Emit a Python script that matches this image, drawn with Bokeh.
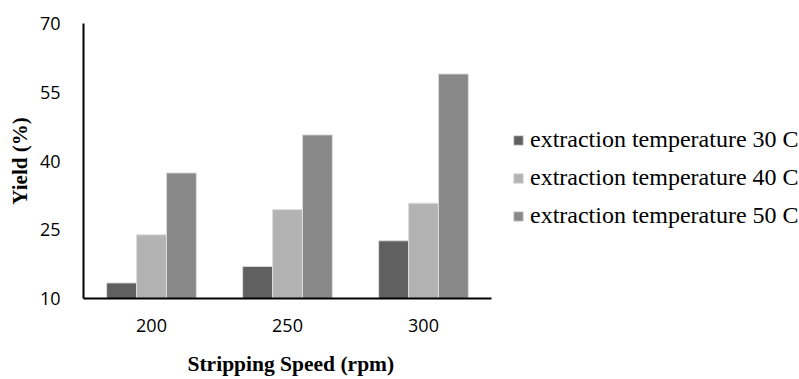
from bokeh.plotting import figure
from bokeh.models import ColumnDataSource, FixedTicker, Legend, LegendItem, Range1d, Title
from bokeh.transform import dodge
from bokeh.embed import file_html
from bokeh.resources import INLINE

speeds = ["200", "250", "300"]
temp_30 = [13.4, 17.0, 22.6]
temp_40 = [23.9, 29.4, 30.8]
temp_50 = [37.4, 45.7, 59.0]
series_labels = ["extraction temperature 30 C", "extraction temperature 40 C", "extraction temperature 50 C"]
colors = ["#606060", "#b3b3b3", "#898989"]
y_ticks = [10, 25, 40, 55, 70]

xpos = [i + 0.5 for i in range(len(speeds))]
source = ColumnDataSource(data=dict(x=xpos, t30=temp_30, t40=temp_40, t50=temp_50))

frame_left = 83
plot_w = 799
cat_px = 408  # width of the category area in pixels
x_end = len(speeds) * (plot_w - frame_left) / cat_px

p = figure(
    x_range=Range1d(0, x_end), y_range=(10, 70),
    width=plot_w, height=379,
    min_border_left=frame_left, min_border_right=0, min_border_top=23, min_border_bottom=81,
    output_backend="svg", toolbar_location=None,
)
p.outline_line_color = None
p.xgrid.grid_line_color = None
p.ygrid.grid_line_color = None

bw = 0.22
renderers = []
for col, off, color in zip(["t30", "t40", "t50"], [-bw, 0.0, bw], colors):
    r = p.vbar(x=dodge("x", off), top=col, bottom=10, width=bw,
               source=source, fill_color=color, line_color="#dedede", line_width=1)
    renderers.append(r)

for ax in (p.xaxis[0], p.yaxis[0]):
    ax.axis_line_color = "black"
    ax.axis_line_width = 2
    ax.major_tick_line_color = None
    ax.minor_tick_line_color = None
    ax.major_label_text_font = "Open Sans"
    ax.major_label_text_font_size = "18px"
    ax.major_label_text_color = "black"
    ax.axis_label_text_font = "Liberation Serif"
    ax.axis_label_text_font_style = "bold"
    ax.axis_label_text_font_size = "21px"
    ax.axis_label_text_color = "black"

p.yaxis.ticker = FixedTicker(ticks=y_ticks)
p.yaxis.major_label_standoff = 17
p.yaxis.axis_label = "Yield (%)"
p.yaxis.axis_label_standoff = 5

p.xaxis.ticker = FixedTicker(ticks=xpos)
p.xaxis.major_label_overrides = {x: s for x, s in zip(xpos, speeds)}
p.xaxis.bounds = (0, len(speeds))
p.xaxis.major_label_standoff = 14
# spacer between tick labels and the title below
p.xaxis.axis_label = " "
p.xaxis.axis_label_text_font_size = "1px"
p.xaxis.axis_label_standoff = 9

xtitle = Title(text="Stripping Speed (rpm)", align="left", offset=104, standoff=5,
               text_font="Liberation Serif", text_font_style="bold",
               text_font_size="21.5px", text_color="black")
p.add_layout(xtitle, "below")

legend = Legend(
    items=[LegendItem(label=lab, renderers=[r]) for lab, r in zip(series_labels, renderers)],
    location=(429, 69), orientation="vertical",
    padding=0, margin=0, spacing=11, glyph_width=12, glyph_height=12,
    label_standoff=6, label_height=26,
    label_text_font="Liberation Serif", label_text_font_size="24px", label_text_color="black",
    border_line_color=None, background_fill_alpha=0,
)
p.add_layout(legend, "center")

open("out.html", "w").write(file_html(p, INLINE))
